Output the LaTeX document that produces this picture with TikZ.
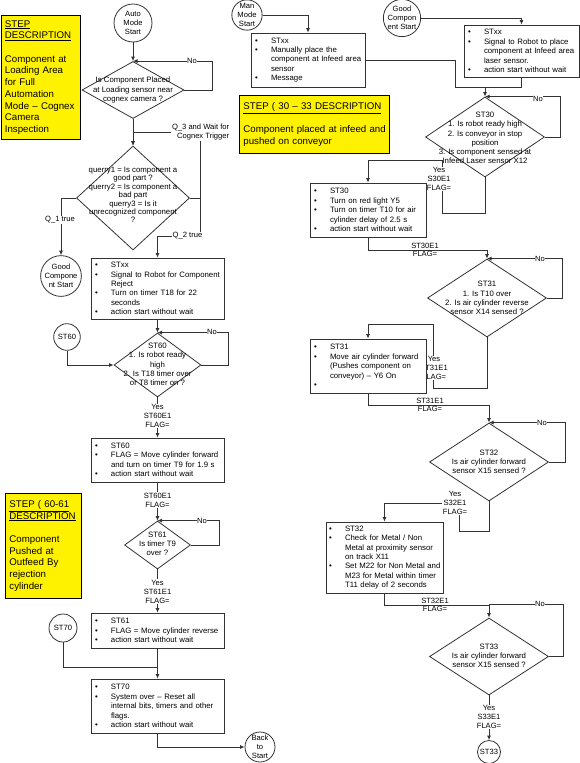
\documentclass[tikz,border=0pt]{standalone}
\usepackage{fontspec}
\setmainfont{Liberation Sans}
\usetikzlibrary{arrows.meta,shapes.geometric}
\pgfdeclarelayer{bg}
\pgfsetlayers{bg,main}
\newcommand{\bi}[1]{\mbox{\makebox[16pt][l]{\textbullet}#1}}
\newcommand{\ci}[1]{\mbox{\hspace*{16pt}#1}}
\tikzset{
 ln/.style={draw=black!80, line width=0.8pt},
 arr/.style={ln, -{Latex[length=4.5pt,width=4pt]}},
 proc/.style={draw=black!80, line width=0.8pt, fill=white, align=left, inner xsep=4pt, inner ysep=0pt, font=\fontsize{7.8}{9.4}\selectfont},
 circ/.style={circle, draw=black!80, line width=0.8pt, fill=white, inner sep=0pt, align=center, font=\fontsize{7.6}{9.2}\selectfont},
 dia/.style={diamond, draw=black!80, line width=0.8pt, fill=white, inner sep=0pt},
 dtxt/.style={align=center, font=\fontsize{7.8}{9.2}\selectfont, inner sep=0pt},
 lbl/.style={fill=white, align=center, inner sep=0.6pt, font=\fontsize{7.6}{9}\selectfont},
 lbln/.style={align=center, inner sep=0.6pt, font=\fontsize{7.6}{8.6}\selectfont},
 ybox/.style={draw=black, line width=0.8pt, fill=yellow, align=left, inner xsep=4pt, inner ysep=0pt, anchor=north west, font=\fontsize{9.7}{11.7}\selectfont},
}
\begin{document}
\begin{tikzpicture}[x=1pt,y=-1pt]
\useasboundingbox (0,0) rectangle (580,763);

% yellow description boxes
\node[ybox, text width=71.5pt, minimum height=124pt] (yb1) at (0.5,15) {\underline{STEP}\\\underline{DESCRIPTION}\\[11.7pt]Component at\\Loading Area\\for Full\\Automation\\\mbox{Mode – Cognex}\\Camera\\Inspection};
\node[ybox, text width=68pt, minimum height=105pt] (yb2) at (5,493) {\underline{STEP ( 60-61}\\\underline{DESCRIPTION}\\[11.7pt]Component\\Pushed at\\Outfeed By\\rejection\\cylinder};
\node[ybox, text width=142pt, minimum height=58pt] (yb3) at (239,95) {\mbox{\underline{STEP ( 30 – 33 DESCRIPTION}}\\[11.7pt]\mbox{Component placed at infeed and}\\\mbox{pushed on conveyor}};

% circles
\node[circ, minimum size=38pt] (auto) at (133,23) {Auto\\Mode\\Start};
\node[circ, minimum size=38pt] (good1) at (61,276) {Good\\Compone\\nt Start};
\node[circ, minimum size=36pt] (good2) at (402,18) {Good\\Compon\\ent Start};
\node[circ, minimum size=30pt] (man) at (247,15) {Man\\Mode\\Start};
\node[circ, minimum size=30pt] (back) at (260,747) {Back\\to\\Start};
\node[circ, minimum size=26.6pt] (st60c) at (67,337) {ST60};
\node[circ, minimum size=28pt] (st70c) at (63,628) {ST70};
\node[circ, minimum size=23pt] (st33c) at (489,752) {ST33};

% diamonds
\node[dia, minimum width=102pt, minimum height=57pt] (d1) at (133,90) {};
\node[dtxt] (d1t) at (133,90) {Is Component Placed\\at Loading sensor near\\cognex camera ?};
\node[dia, minimum width=113pt, minimum height=104pt] (d2) at (133,198) {};
\node[dtxt, font=\fontsize{7.8}{8.4}\selectfont] (d2t) at (133,195) {querry1 = Is component a\\good part ?\\querry2 = Is component a\\bad part\\querry3 = Is it\\unrecognized component\\?};
\node[dia, minimum width=87pt, minimum height=64pt] (d60) at (157.5,365) {};
\node[dtxt] (d60t) at (157.5,364.5) {ST60\\1. Is robot ready\\high\\2. Is T18 timer over\\or T8 timer on ?};
\node[dia, minimum width=66pt, minimum height=48pt] (d61) at (157.5,545) {};
\node[dtxt] (d61t) at (157.5,544) {ST61\\Is timer T9\\over ?};
\node[dia, minimum width=119pt, minimum height=80pt] (d30) at (485,137) {};
\node[dtxt] (d30t) at (485,138) {ST30\\1. Is robot ready high\\2. Is conveyor in stop\\position\\3. Is component sensed at\\Infeed Laser sensor X12};
\node[dia, minimum width=119pt, minimum height=78pt] (d31) at (487,298) {};
\node[dtxt] (d31t) at (487,298) {ST31\\1. Is T10 over\\2. Is air cylinder reverse\\sensor X14 sensed ?};
\node[dia, minimum width=119pt, minimum height=78pt] (d32) at (489,462) {};
\node[dtxt] (d32t) at (489,462) {ST32\\Is air cylinder forward\\sensor X15 sensed ?};
\node[dia, minimum width=119pt, minimum height=77pt] (d33) at (489,656.5) {};
\node[dtxt] (d33t) at (489,656) {ST33\\Is air cylinder forward\\sensor X15 sensed ?};

% connector labels
\node[lbl] (no1) at (192,61) {No};
\node[lbl, anchor=east, align=right] (q3) at (230,132.5) {Q\_3 and Wait for\\Cognex Trigger};
\node[lbl] (q2) at (187.5,236) {Q\_2 true};
\node[lbl] (q1) at (60,220) {Q\_1 true};
\node[lbl] (no60) at (212,332) {No};
\node[lbl] (y60) at (157.5,416) {Yes\\ST60E1\\FLAG=};
\node[lbl] (e60) at (157.5,500) {ST60E1\\FLAG=};
\node[lbl] (no61) at (202,521) {No};
\node[lbl] (y61) at (157.5,591.5) {Yes\\ST61E1\\FLAG=};
\node[lbl] (no30) at (538,99) {No};
\node[lbl] (y30) at (439,179) {Yes\\S30E1\\FLAG=};
\node[lbln] (e30) at (425,250) {ST30E1\\FLAG=};
\node[lbl] (no31) at (540,259) {No};
\node[lbl] (y31) at (434,368) {Yes\\ST31E1\\FLAG=};
\node[lbln] (e31) at (430,405) {ST31E1\\FLAG=};
\node[lbl] (no32) at (542,423) {No};
\node[lbl] (y32) at (455,503) {Yes\\S32E1\\FLAG=};
\node[lbln] (e32) at (435,605) {ST32E1\\FLAG=};
\node[lbl] (no33) at (540,604) {No};
\node[lbl] (y33) at (489,717) {Yes\\S33E1\\FLAG=};

% process boxes
\node[proc, text width=125pt, minimum height=61pt] (rej) at (157.5,288.5) {\bi{STxx}\\\bi{Signal to Robot for Component}\\\ci{Reject}\\\bi{Turn on timer T18 for 22}\\\ci{seconds}\\\bi{action start without wait}};
\node[proc, text width=125pt, minimum height=44pt] (b60) at (157.5,460) {\bi{ST60}\\\bi{FLAG = Move cylinder forward}\\\ci{and turn on timer T9 for 1.9 s}\\\bi{action start without wait}};
\node[proc, text width=125pt, minimum height=35pt] (b61) at (157.5,630.5) {\bi{ST61}\\\bi{FLAG = Move cylinder reverse}\\\bi{action start without wait}};
\node[proc, text width=125pt, minimum height=54pt] (b70) at (157.5,706) {\bi{ST70}\\\bi{System over – Reset all}\\\ci{internal bits, timers and other}\\\ci{flags.}\\\bi{action start without wait}};
\node[proc, text width=106pt, minimum height=54pt] (bman) at (308,60) {\bi{STxx}\\\bi{Manually place the}\\\ci{component at Infeed area}\\\ci{sensor}\\\bi{Message}};
\node[proc, text width=107pt, minimum height=52pt] (bgood) at (521.5,51) {\bi{STxx}\\\bi{Signal to Robot to place}\\\ci{component at Infeed area}\\\ci{laser sensor.}\\\bi{action start without wait}};
\node[proc, text width=108pt, minimum height=54pt] (b30) at (368,210) {\bi{ST30}\\\bi{Turn on red light Y5}\\\bi{Turn on timer T10 for air}\\\ci{cylinder delay of 2.5 s}\\\bi{action start without wait}};
\node[proc, text width=108pt, minimum height=54pt] (b31) at (368,366) {\bi{ST31}\\\bi{Move air cylinder forward}\\\ci{(Pushes component on}\\\ci{conveyor) – Y6 On}\\\bi{}};
\node[proc, minimum height=71pt, inner xsep=3pt, text width=111pt] (b32) at (384.5,557.5) {\bi{ST32}\\\bi{Check for Metal / Non}\\\ci{Metal at proximity sensor}\\\ci{on track X11}\\\bi{Set M22 for Non Metal and}\\\ci{M23 for Metal within timer}\\\ci{T11 delay of 2 seconds}};

\coordinate (j30) at (485,87);
\coordinate (j70) at (157.5,667);
\coordinate (j33) at (489,604);

\begin{pgfonlayer}{bg}
\draw[arr] (auto.south) -- (d1.north);
\draw[arr] (d1.east) -- ++(28,0) |- (d1.north);
\draw[arr] (d1.south) -- (d2.north);
\draw[arr] (d2.east) -| (200,132) -| (d2.north);
\draw[arr] (d2.east) -| (200,236) -| (rej.north);
\draw[arr] (d2.west) -| (good1.north);
\draw[arr] (rej.south) -- (d60.north);
\draw[arr] (d60.east) -- ++(27,0) |- (d60.north);
\draw[arr] (st60c.south) |- (d60.west);
\draw[arr] (d60.south) -- (b60.north);
\draw[arr] (b60.south) -- (d61.north);
\draw[arr] (d61.east) -- ++(28,0) |- (d61.north);
\draw[arr] (d61.south) -- (b61.north);
\draw[arr] (b61.south) -- (b70.north);
\draw[ln] (st70c.south) |- (j70);
\draw[arr] (b70.south) |- (back.west);
\draw[arr] (man.east) -| (bman.north);
\draw[arr] (good2.east) -| (bgood.north);
\draw[arr] (bman.east) -- (455,60) |- (j30) -- (d30.north);
\draw[ln] (bgood.south) |- (j30);
\draw[arr] (d30.east) -- ++(15,0) |- (d30.north);
\draw[arr] (d30.south) |- (442,213) -- (442,160) -| (b30.north);
\draw[arr] (b30.south) -- ++(0,13) -| (d31.north);
\draw[arr] (d31.east) -- ++(15,0) |- (d31.north);
\draw[arr] (d31.south) |- (433,388) -- (433,324) -| (b31.north);
\draw[arr] (b31.south) -- ++(0,12) -| (d32.north);
\draw[arr] (d32.east) -- ++(16,0) |- (d32.north);
\draw[arr] (d32.south) |- (459,531) -- (459,503) -| (b32.north);
\draw[arr] (b32.south) -- ++(0,12) -| (d33.north);
\draw[ln] (d33.east) -- ++(14,0) |- (j33);
\draw[arr] (d33.south) -- (st33c.north);
\end{pgfonlayer}
\end{tikzpicture}
\end{document}
